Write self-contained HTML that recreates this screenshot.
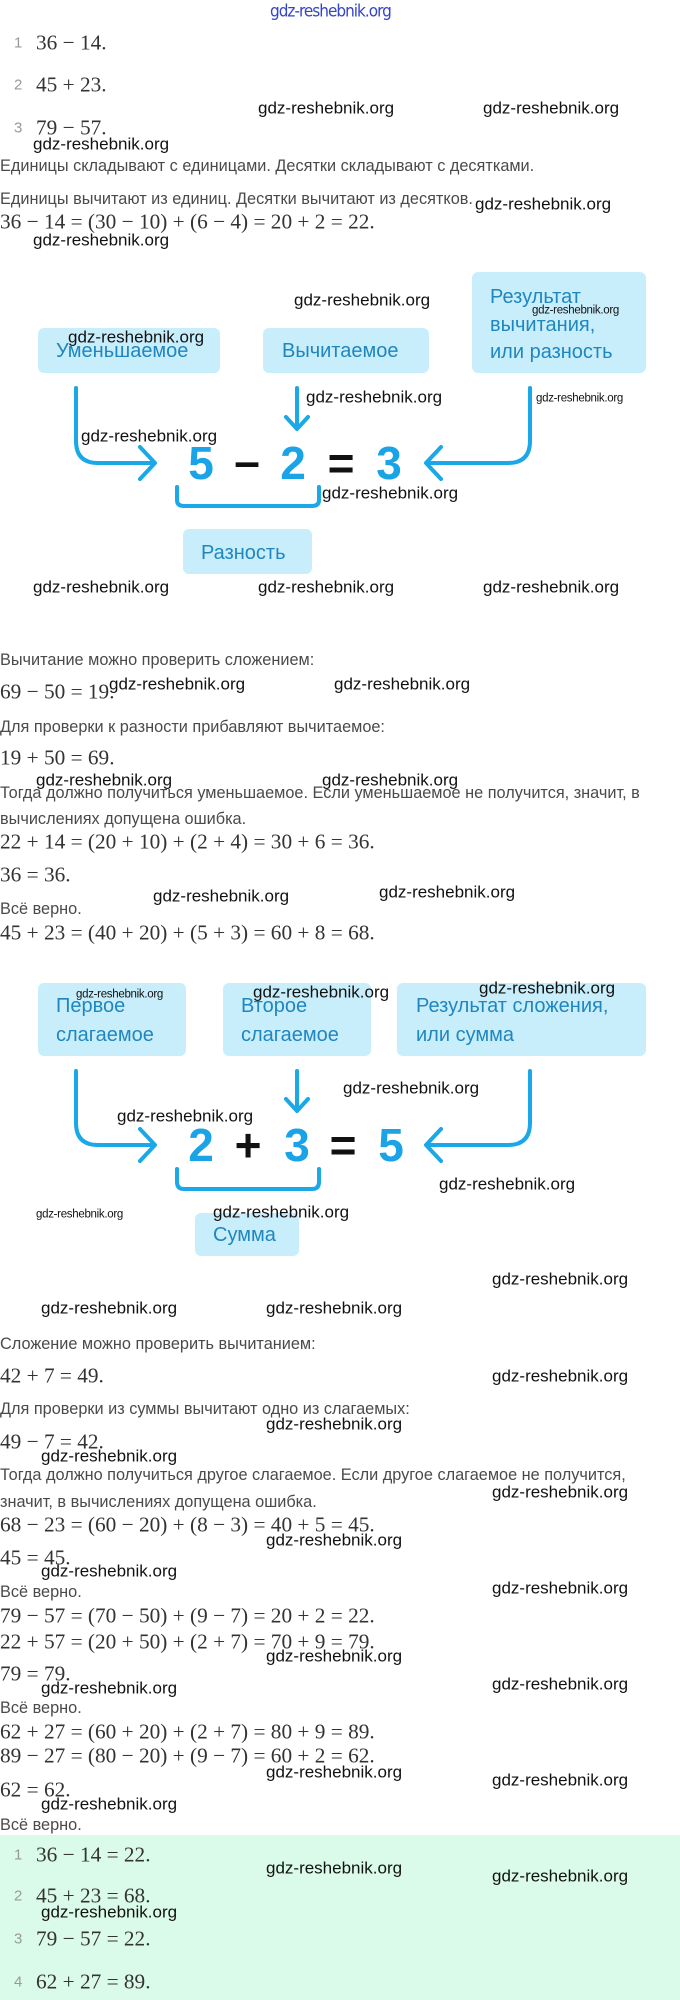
<!DOCTYPE html>
<html><head><meta charset="utf-8"><style>
html,body{margin:0;padding:0;background:#fff;}
body{width:680px;height:2000px;position:relative;overflow:hidden;font-family:"Liberation Sans",sans-serif;}
.t{position:absolute;white-space:nowrap;line-height:1;transform:translateY(-50%);}
.p{font-size:16.3px;color:#4a4a4a;left:0;}
.m{font-family:"Liberation Serif",serif;font-size:21.3px;color:#333;left:0;}
.n{font-size:15px;color:#999;}
.w{font-size:17px;color:#111;}
.ws{font-size:11.5px;color:#111;letter-spacing:-0.3px;}
.box{position:absolute;background:#c8eefc;border-radius:6px;}
.bt{position:absolute;white-space:nowrap;line-height:1;transform:translateY(-50%);font-size:20px;color:#1f86bf;}
.green{position:absolute;left:0;top:1835px;width:680px;height:165px;background:#dbfbea;}
</style></head><body>
<div class="green"></div>

<div class="t" style="left:270px;top:12px;font-size:17px;color:#3344cc;font-family:'DejaVu Sans Condensed','Liberation Sans',sans-serif;letter-spacing:-1px;">gdz-reshebnik.org</div>

<div class="t n" style="left:14px;top:43px">1</div><div class="t m" style="left:36px;top:43px">36 − 14.</div>
<div class="t n" style="left:14px;top:85px">2</div><div class="t m" style="left:36px;top:85px">45 + 23.</div>
<div class="t n" style="left:14px;top:128px">3</div><div class="t m" style="left:36px;top:128px">79 − 57.</div>
<div class="t w" style="left:258px;top:108px">gdz-reshebnik.org</div>
<div class="t w" style="left:483px;top:108px">gdz-reshebnik.org</div>
<div class="t w" style="left:33px;top:144px">gdz-reshebnik.org</div>
<div class="t p" style="top:166px">Единицы складывают с единицами. Десятки складывают с десятками.</div>
<div class="t p" style="top:199px">Единицы вычитают из единиц. Десятки вычитают из десятков.</div>
<div class="t w" style="left:475px;top:204px">gdz-reshebnik.org</div>
<div class="t m" style="top:222px">36 − 14 = (30 − 10) + (6 − 4) = 20 + 2 = 22.</div>
<div class="t w" style="left:33px;top:240px">gdz-reshebnik.org</div>

<!-- Diagram 1 -->
<div class="box" style="left:38px;top:328px;width:182px;height:45px"></div>
<div class="box" style="left:263px;top:328px;width:166px;height:45px"></div>
<div class="box" style="left:472px;top:272px;width:174px;height:101px"></div>
<div class="box" style="left:183px;top:529px;width:129px;height:45px"></div>
<div class="bt" style="left:56px;top:351px">Уменьшаемое</div>
<div class="bt" style="left:282px;top:351px">Вычитаемое</div>
<div class="bt" style="left:490px;top:297px">Результат</div>
<div class="bt" style="left:490px;top:325px">вычитания,</div>
<div class="bt" style="left:490px;top:352px">или разность</div>
<div class="bt" style="left:201px;top:553px">Разность</div>
<svg style="position:absolute;left:0;top:0" width="680" height="620">
<g fill="none" stroke="#1aa8e8" stroke-width="4" stroke-linecap="round" stroke-linejoin="round">
<path d="M76 388 V441 Q76 463 98 463 H152"/>
<path d="M140 447 L155 463 L140 479"/>
<path d="M297 388 V428"/>
<path d="M286 417 L297 429 L308 417"/>
<path d="M530 388 V441 Q530 463 508 463 H428"/>
<path d="M441 447 L426 463 L441 479"/>
<path d="M177 487 V500 Q177 506 184 506 H312 Q319 506 319 500 V487"/>
</g>
<g font-family="Liberation Sans,sans-serif" font-weight="bold" font-size="46" text-anchor="middle">
<text x="201" y="479" fill="#1aa3e6">5</text>
<text x="247" y="477" fill="#111">–</text>
<text x="293" y="479" fill="#1aa3e6">2</text>
<text x="341" y="479" fill="#111">=</text>
<text x="389" y="479" fill="#1aa3e6">3</text>
</g>
</svg>
<div class="t w" style="left:68px;top:337px">gdz-reshebnik.org</div>
<div class="t w" style="left:294px;top:300px">gdz-reshebnik.org</div>
<div class="t w" style="left:306px;top:397px">gdz-reshebnik.org</div>
<div class="t ws" style="left:532px;top:311px">gdz-reshebnik.org</div>
<div class="t ws" style="left:536px;top:399px">gdz-reshebnik.org</div>
<div class="t w" style="left:81px;top:436px">gdz-reshebnik.org</div>
<div class="t w" style="left:322px;top:493px">gdz-reshebnik.org</div>
<div class="t w" style="left:33px;top:587px">gdz-reshebnik.org</div>
<div class="t w" style="left:258px;top:587px">gdz-reshebnik.org</div>
<div class="t w" style="left:483px;top:587px">gdz-reshebnik.org</div>

<div class="t p" style="top:660px">Вычитание можно проверить сложением:</div>
<div class="t m" style="top:692px">69 − 50 = 19.</div>
<div class="t w" style="left:109px;top:684px">gdz-reshebnik.org</div>
<div class="t w" style="left:334px;top:684px">gdz-reshebnik.org</div>
<div class="t p" style="top:727px">Для проверки к разности прибавляют вычитаемое:</div>
<div class="t m" style="top:758px">19 + 50 = 69.</div>
<div class="t p" style="top:793px">Тогда должно получиться уменьшаемое. Если уменьшаемое не получится, значит, в</div>
<div class="t w" style="left:36px;top:780px">gdz-reshebnik.org</div>
<div class="t w" style="left:322px;top:780px">gdz-reshebnik.org</div>
<div class="t p" style="top:819px">вычислениях допущена ошибка.</div>
<div class="t m" style="top:842px">22 + 14 = (20 + 10) + (2 + 4) = 30 + 6 = 36.</div>
<div class="t m" style="top:875px">36 = 36.</div>
<div class="t w" style="left:153px;top:896px">gdz-reshebnik.org</div>
<div class="t w" style="left:379px;top:892px">gdz-reshebnik.org</div>
<div class="t p" style="top:909px">Всё верно.</div>
<div class="t m" style="top:933px">45 + 23 = (40 + 20) + (5 + 3) = 60 + 8 = 68.</div>

<!-- Diagram 2 -->
<div class="box" style="left:38px;top:983px;width:148px;height:73px"></div>
<div class="box" style="left:223px;top:983px;width:148px;height:73px"></div>
<div class="box" style="left:397px;top:983px;width:249px;height:73px"></div>
<div class="box" style="left:195px;top:1213px;width:104px;height:43px"></div>
<div class="bt" style="left:56px;top:1006px">Первое</div>
<div class="bt" style="left:56px;top:1035px">слагаемое</div>
<div class="bt" style="left:241px;top:1006px">Второе</div>
<div class="bt" style="left:241px;top:1035px">слагаемое</div>
<div class="bt" style="left:416px;top:1006px">Результат сложения,</div>
<div class="bt" style="left:416px;top:1035px">или сумма</div>
<div class="bt" style="left:213px;top:1235px">Сумма</div>
<svg style="position:absolute;left:0;top:1000px" width="680" height="200">
<g fill="none" stroke="#1aa8e8" stroke-width="4" stroke-linecap="round" stroke-linejoin="round">
<path d="M76 71 V123 Q76 145 98 145 H152"/>
<path d="M140 129 L155 145 L140 161"/>
<path d="M297 71 V110"/>
<path d="M286 99 L297 111 L308 99"/>
<path d="M530 71 V123 Q530 145 508 145 H428"/>
<path d="M441 129 L426 145 L441 161"/>
<path d="M177 169 V182 Q177 189 184 189 H312 Q319 189 319 182 V169"/>
</g>
<g font-family="Liberation Sans,sans-serif" font-weight="bold" font-size="46" text-anchor="middle">
<text x="201" y="161" fill="#1aa3e6">2</text>
<text x="248" y="161" fill="#111">+</text>
<text x="297" y="161" fill="#1aa3e6">3</text>
<text x="343" y="161" fill="#111">=</text>
<text x="391" y="161" fill="#1aa3e6">5</text>
</g>
</svg>
<div class="t ws" style="left:76px;top:995px">gdz-reshebnik.org</div>
<div class="t w" style="left:253px;top:992px">gdz-reshebnik.org</div>
<div class="t w" style="left:479px;top:988px">gdz-reshebnik.org</div>
<div class="t w" style="left:343px;top:1088px">gdz-reshebnik.org</div>
<div class="t w" style="left:117px;top:1116px">gdz-reshebnik.org</div>
<div class="t w" style="left:439px;top:1184px">gdz-reshebnik.org</div>
<div class="t ws" style="left:36px;top:1215px">gdz-reshebnik.org</div>
<div class="t w" style="left:213px;top:1212px">gdz-reshebnik.org</div>
<div class="t w" style="left:492px;top:1279px">gdz-reshebnik.org</div>

<div class="t w" style="left:41px;top:1308px">gdz-reshebnik.org</div>
<div class="t w" style="left:266px;top:1308px">gdz-reshebnik.org</div>
<div class="t p" style="top:1344px">Сложение можно проверить вычитанием:</div>
<div class="t m" style="top:1376px">42 + 7 = 49.</div>
<div class="t w" style="left:492px;top:1376px">gdz-reshebnik.org</div>
<div class="t p" style="top:1409px">Для проверки из суммы вычитают одно из слагаемых:</div>
<div class="t w" style="left:266px;top:1424px">gdz-reshebnik.org</div>
<div class="t m" style="top:1442px">49 − 7 = 42.</div>
<div class="t w" style="left:41px;top:1456px">gdz-reshebnik.org</div>
<div class="t p" style="top:1475px">Тогда должно получиться другое слагаемое. Если другое слагаемое не получится,</div>
<div class="t p" style="top:1502px">значит, в вычислениях допущена ошибка.</div>
<div class="t w" style="left:492px;top:1492px">gdz-reshebnik.org</div>
<div class="t m" style="top:1525px">68 − 23 = (60 − 20) + (8 − 3) = 40 + 5 = 45.</div>
<div class="t w" style="left:266px;top:1540px">gdz-reshebnik.org</div>
<div class="t m" style="top:1558px">45 = 45.</div>
<div class="t w" style="left:41px;top:1571px">gdz-reshebnik.org</div>
<div class="t p" style="top:1592px">Всё верно.</div>
<div class="t w" style="left:492px;top:1588px">gdz-reshebnik.org</div>
<div class="t m" style="top:1616px">79 − 57 = (70 − 50) + (9 − 7) = 20 + 2 = 22.</div>
<div class="t m" style="top:1642px">22 + 57 = (20 + 50) + (2 + 7) = 70 + 9 = 79.</div>
<div class="t w" style="left:266px;top:1656px">gdz-reshebnik.org</div>
<div class="t m" style="top:1674px">79 = 79.</div>
<div class="t w" style="left:41px;top:1688px">gdz-reshebnik.org</div>
<div class="t w" style="left:492px;top:1684px">gdz-reshebnik.org</div>
<div class="t p" style="top:1708px">Всё верно.</div>
<div class="t m" style="top:1732px">62 + 27 = (60 + 20) + (2 + 7) = 80 + 9 = 89.</div>
<div class="t m" style="top:1756px">89 − 27 = (80 − 20) + (9 − 7) = 60 + 2 = 62.</div>
<div class="t w" style="left:266px;top:1772px">gdz-reshebnik.org</div>
<div class="t w" style="left:492px;top:1780px">gdz-reshebnik.org</div>
<div class="t m" style="top:1790px">62 = 62.</div>
<div class="t w" style="left:41px;top:1804px">gdz-reshebnik.org</div>
<div class="t p" style="top:1825px">Всё верно.</div>

<div class="t n" style="left:14px;top:1855px">1</div><div class="t m" style="left:36px;top:1855px">36 − 14 = 22.</div>
<div class="t n" style="left:14px;top:1896px">2</div><div class="t m" style="left:36px;top:1896px">45 + 23 = 68.</div>
<div class="t n" style="left:14px;top:1939px">3</div><div class="t m" style="left:36px;top:1939px">79 − 57 = 22.</div>
<div class="t n" style="left:14px;top:1982px">4</div><div class="t m" style="left:36px;top:1982px">62 + 27 = 89.</div>
<div class="t w" style="left:266px;top:1868px">gdz-reshebnik.org</div>
<div class="t w" style="left:492px;top:1876px">gdz-reshebnik.org</div>
<div class="t w" style="left:41px;top:1912px">gdz-reshebnik.org</div>
</body></html>
